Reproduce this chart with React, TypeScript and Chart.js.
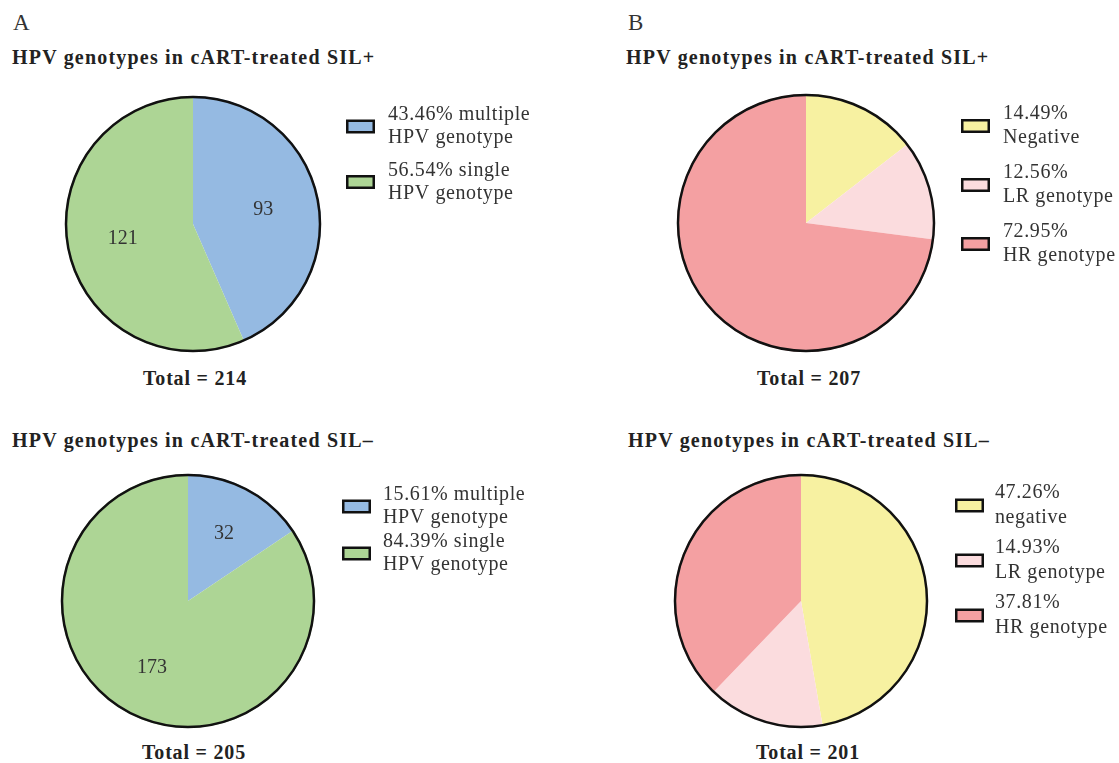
import React, { useEffect, useRef } from "react";
import { Chart, registerables } from "chart.js";

Chart.register(...registerables);

const FONT = '"Liberation Serif", "Times New Roman", serif';

// ---------------- data ----------------
const panelATitleTop = "HPV genotypes in cART-treated SIL+";
const panelATitleBottom = "HPV genotypes in cART-treated SIL\u2013";

const aTopLabels = [["43.46% multiple", "HPV genotype"], ["56.54% single", "HPV genotype"]];
const aTopValues = [93, 121];
const aTopTotal = "Total = 214";

const aBottomLabels = [["15.61% multiple", "HPV genotype"], ["84.39% single", "HPV genotype"]];
const aBottomValues = [32, 173];
const aBottomTotal = "Total = 205";

const bTopLabels = [["14.49%", "Negative"], ["12.56%", "LR genotype"], ["72.95%", "HR genotype"]];
const bTopValues = [30, 26, 151];
const bTopTotal = "Total = 207";

const bBottomLabels = [["47.26%", "negative"], ["14.93%", "LR genotype"], ["37.81%", "HR genotype"]];
const bBottomValues = [95, 30, 76];
const bBottomTotal = "Total = 201";

const aColors = ["#95BAE2", "#ADD595"];
const bColors = ["#F7F1A1", "#FBDCDE", "#F4A0A2"];

// ---------------- plugin: outline, value labels, legend ----------------
const pieDecor = {
  id: "pieDecor",
  afterDatasetsDraw(chart: any, _args: any, opts: any) {
    const meta = chart.getDatasetMeta(0);
    const arcs = meta.data as any[];
    if (!arcs.length) return;
    const { x, y, outerRadius } = arcs[0];
    const ctx = chart.ctx as CanvasRenderingContext2D;
    ctx.save();
    // outer ring
    ctx.beginPath();
    ctx.arc(x, y, outerRadius - 1, 0, Math.PI * 2);
    ctx.lineWidth = 2.5;
    ctx.strokeStyle = "#111";
    ctx.stroke();

    const ds = chart.data.datasets[0];
    if (opts.showValues) {
      ctx.font = `20px ${FONT}`;
      ctx.fillStyle = "#333";
      ctx.textAlign = "center";
      ctx.textBaseline = "middle";
      arcs.forEach((arc: any, i: number) => {
        const mid = (arc.startAngle + arc.endAngle) / 2;
        const d = outerRadius * opts.valueRadius;
        ctx.fillText(String(ds.data[i]), x + Math.cos(mid) * d, y + Math.sin(mid) * d);
      });
    }

    // legend
    const ca = chart.chartArea;
    const boxX = ca.right + opts.legendGap;
    let base = ca.top + opts.firstBaseline;
    ctx.font = `20px ${FONT}`;
    ctx.textAlign = "left";
    ctx.textBaseline = "alphabetic";
    (ctx as any).letterSpacing = "0.6px";
    (chart.data.labels as any[]).forEach((lab: any, i: number) => {
      const lines: string[] = Array.isArray(lab) ? lab : [lab];
      const blockTop = base - 13;
      const blockBottom = base + (lines.length - 1) * opts.lineHeight;
      const mid = (blockTop + blockBottom) / 2 + 1.5;
      const bw = 29, bh = 14, lw = 2.5;
      const bx = boxX, by = mid - bh / 2;
      ctx.fillStyle = ds.backgroundColor[i];
      ctx.fillRect(bx + lw / 2, by + lw / 2, bw - lw, bh - lw);
      ctx.lineWidth = lw;
      ctx.strokeStyle = "#111";
      ctx.strokeRect(bx + lw / 2, by + lw / 2, bw - lw, bh - lw);
      ctx.fillStyle = "#333";
      lines.forEach((ln, j) => ctx.fillText(ln, bx + opts.textOffset, base + j * opts.lineHeight));
      base += opts.itemPitch;
    });
    ctx.restore();
  },
};

type PieProps = {
  cx: number;
  cy: number;
  r: number;
  width: number;
  labels: string[][];
  values: number[];
  colors: string[];
  decor: any;
};

function PieChart({ cx, cy, r, width, labels, values, colors, decor }: PieProps) {
  const ref = useRef<HTMLCanvasElement>(null);
  const pad = 10;
  const left = cx - r - pad;
  const top = cy - r - pad;
  const height = 2 * r + 2 * pad;
  useEffect(() => {
    const chart = new Chart(ref.current!, {
      type: "pie",
      data: {
        labels: labels as any,
        datasets: [{ data: values, backgroundColor: colors, borderWidth: 0 }],
      },
      options: {
        responsive: false,
        maintainAspectRatio: false,
        animation: false,
        devicePixelRatio: 1,
        events: [],
        layout: { padding: { left: pad, top: pad, bottom: pad, right: width - pad - 2 * r } },
        plugins: {
          legend: { display: false },
          tooltip: { enabled: false },
          title: { display: false },
          pieDecor: decor,
        } as any,
      },
      plugins: [pieDecor as any],
    });
    return () => chart.destroy();
  }, []);
  return (
    <canvas
      ref={ref}
      width={width}
      height={height}
      style={{ position: "absolute", left, top, width, height }}
    />
  );
}

function Txt({
  x,
  baseline,
  size,
  bold,
  center,
  ls,
  children,
}: {
  x: number;
  baseline: number;
  size: number;
  bold?: boolean;
  center?: boolean;
  ls?: number;
  children: React.ReactNode;
}) {
  const top = baseline - 0.8375 * size;
  return (
    <div
      style={{
        position: "absolute",
        left: center ? x - 300 : x,
        width: center ? 600 : undefined,
        top,
        textAlign: center ? "center" : "left",
        whiteSpace: "nowrap",
        fontFamily: FONT,
        fontSize: size,
        lineHeight: `${size}px`,
        fontWeight: bold ? 700 : 400,
        letterSpacing: ls ?? 0,
        color: bold ? "#222" : "#333",
      }}
    >
      {children}
    </div>
  );
}

export default function App() {
  return (
    <div
      style={{
        position: "absolute",
        left: 0,
        top: 0,
        width: 1119,
        height: 763,
        background: "#fff",
        overflow: "hidden",
      }}
    >
      <Txt x={13} baseline={30} size={23}>A</Txt>
      <Txt x={628} baseline={30} size={23}>B</Txt>

      <Txt x={12} baseline={64} size={20} bold ls={1.2}>{panelATitleTop}</Txt>
      <Txt x={626} baseline={64} size={20} bold ls={1.2}>{panelATitleTop}</Txt>
      <Txt x={12} baseline={447} size={20} bold ls={1.2}>{panelATitleBottom}</Txt>
      <Txt x={628} baseline={447} size={20} bold ls={1.2}>{panelATitleBottom}</Txt>

      <Txt x={195} baseline={385} size={20} bold center ls={0.8}>{aTopTotal}</Txt>
      <Txt x={809} baseline={385} size={20} bold center ls={0.8}>{bTopTotal}</Txt>
      <Txt x={194} baseline={759} size={20} bold center ls={0.8}>{aBottomTotal}</Txt>
      <Txt x={808} baseline={759} size={20} bold center ls={0.8}>{bBottomTotal}</Txt>

      <PieChart
        cx={193}
        cy={224}
        r={128}
        width={500}
        labels={aTopLabels}
        values={aTopValues}
        colors={aColors}
        decor={{ showValues: true, valueRadius: 0.56, legendGap: 25, firstBaseline: 24, itemPitch: 55.5, lineHeight: 23, textOffset: 42 }}
      />
      <PieChart
        cx={188}
        cy={601}
        r={127}
        width={500}
        labels={aBottomLabels}
        values={aBottomValues}
        colors={aColors}
        decor={{ showValues: true, valueRadius: 0.6, legendGap: 27, firstBaseline: 26, itemPitch: 47, lineHeight: 23, textOffset: 41 }}
      />
      <PieChart
        cx={806}
        cy={223}
        r={129}
        width={452}
        labels={bTopLabels}
        values={bTopValues}
        colors={bColors}
        decor={{ showValues: false, legendGap: 26, firstBaseline: 25, itemPitch: 59, lineHeight: 24, textOffset: 42 }}
      />
      <PieChart
        cx={801}
        cy={601}
        r={127}
        width={455}
        labels={bBottomLabels}
        values={bBottomValues}
        colors={bColors}
        decor={{ showValues: false, legendGap: 27, firstBaseline: 24, itemPitch: 55, lineHeight: 25, textOffset: 40 }}
      />
    </div>
  );
}
